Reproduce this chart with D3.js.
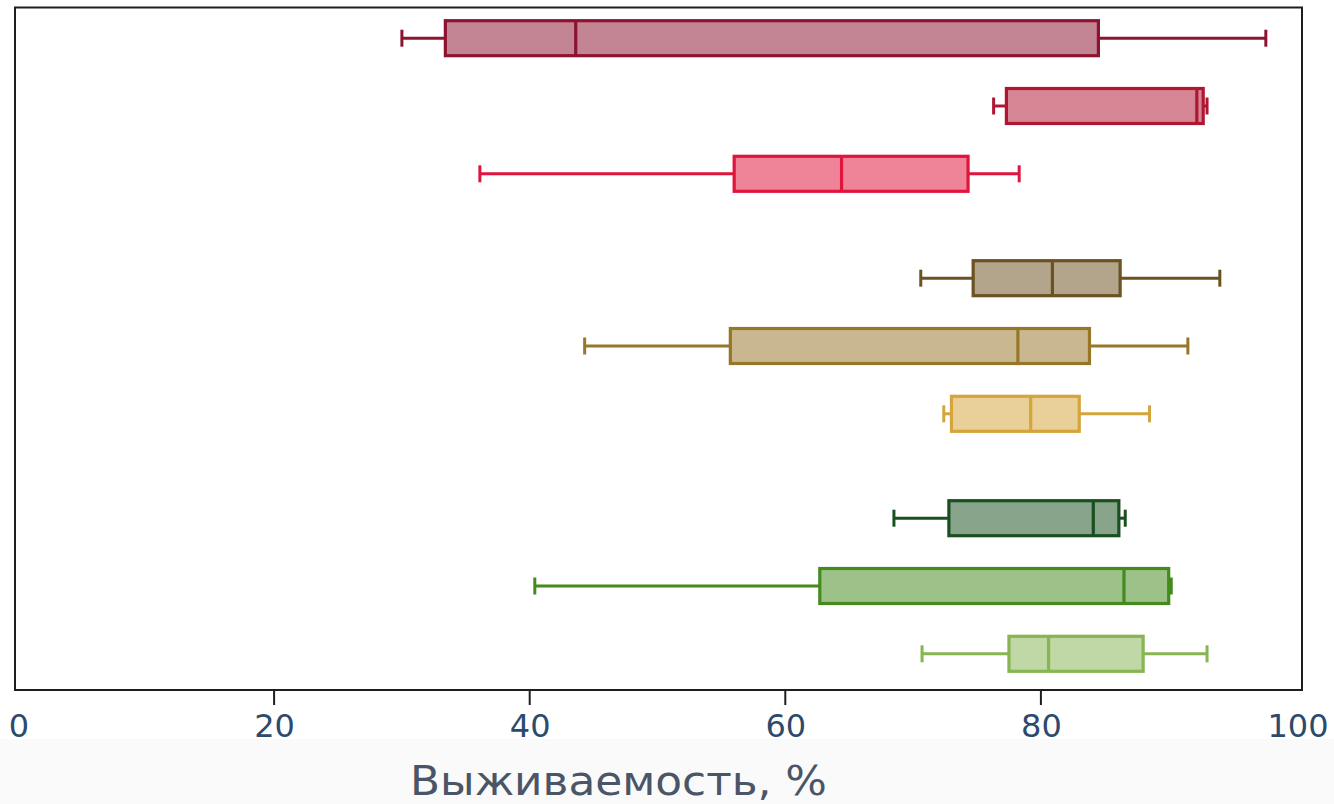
<!DOCTYPE html>
<html>
<head>
<meta charset="utf-8">
<script src="https://cdn.jsdelivr.net/npm/d3@7"></script>
<style>
  html, body { margin: 0; padding: 0; background: #ffffff; }
  svg { display: block; }
</style>
</head>
<body>
<svg id="chart" width="1334" height="804"></svg>
<script>
// Survival (%) box summaries: three groups of three series each
const groups = ["A", "B", "C"];
const series = ["1", "2", "3"];
const mins    = [30.0, 76.3, 36.1,  70.6, 44.3, 72.4,  68.5, 40.4, 70.7];
const q1s     = [33.4, 77.3, 56.0,  74.7, 55.7, 73.0,  72.8, 62.7, 77.5];
const medians = [43.6, 92.2, 64.4,  80.9, 78.2, 79.2,  84.1, 86.5, 80.6];
const q3s     = [84.5, 92.7, 74.3,  86.2, 83.8, 83.0,  86.1, 90.0, 88.0];
const maxs    = [97.6, 93.0, 78.3,  94.0, 91.5, 88.5,  86.6, 90.2, 93.0];
const colors  = ["#8c1430", "#b01631", "#e0143c",
                 "#6b5221", "#977628", "#d4a53a",
                 "#1a5020", "#448a1d", "#86b552"];
const xTicks = [0, 20, 40, 60, 80, 100];
const xTitle = "Выживаемость, %";

const rows = mins.map((m, i) => ({
  group: groups[Math.floor(i / series.length)],
  series: series[i % series.length],
  min: m, q1: q1s[i], med: medians[i], q3: q3s[i], max: maxs[i],
  color: colors[i]
}));

const svg = d3.select("#chart");
const W = 1334, H = 804;
const frame = { left: 15, right: 1302, top: 7.5, bottom: 690 };

// light strip at the bottom of the figure
svg.append("rect").attr("x", 0).attr("y", 739).attr("width", W).attr("height", H - 739)
  .attr("fill", "#fafafa");

const x = d3.scaleLinear().domain([0, 100]).range([18.5, 1296.5]);
const yGroup = d3.scalePoint().domain(groups).range([106, 586]);
const ySeries = d3.scalePoint().domain(series).range([-67.8, 67.8]);
const boxH = 35;
const capH = 17;

const g = svg.append("g");

const box = g.selectAll("g.box").data(rows).join("g").attr("class", "box")
  .attr("transform", d => `translate(0,${yGroup(d.group) + ySeries(d.series)})`);

// whiskers
box.append("line")
  .attr("x1", d => x(d.min)).attr("x2", d => x(d.q1)).attr("y1", 0).attr("y2", 0)
  .attr("stroke", d => d.color).attr("stroke-width", 3);
box.append("line")
  .attr("x1", d => x(d.q3)).attr("x2", d => x(d.max)).attr("y1", 0).attr("y2", 0)
  .attr("stroke", d => d.color).attr("stroke-width", 3);
// caps
box.append("line")
  .attr("x1", d => x(d.min)).attr("x2", d => x(d.min)).attr("y1", -capH / 2).attr("y2", capH / 2)
  .attr("stroke", d => d.color).attr("stroke-width", 3);
box.append("line")
  .attr("x1", d => x(d.max)).attr("x2", d => x(d.max)).attr("y1", -capH / 2).attr("y2", capH / 2)
  .attr("stroke", d => d.color).attr("stroke-width", 3);
// interquartile box
box.append("rect")
  .attr("x", d => x(d.q1)).attr("width", d => x(d.q3) - x(d.q1))
  .attr("y", -boxH / 2).attr("height", boxH)
  .attr("fill", d => d.color).attr("fill-opacity", 0.52)
  .attr("stroke", d => d.color).attr("stroke-width", 3.2);
// median
box.append("line")
  .attr("x1", d => x(d.med)).attr("x2", d => x(d.med)).attr("y1", -boxH / 2).attr("y2", boxH / 2)
  .attr("stroke", d => d.color).attr("stroke-width", 3.2);

// frame
svg.append("rect")
  .attr("x", frame.left).attr("y", frame.top)
  .attr("width", frame.right - frame.left).attr("height", frame.bottom - frame.top)
  .attr("fill", "none").attr("stroke", "#1e1e1e").attr("stroke-width", 2);

// x axis: tick marks on interior ticks only, labels on all
const axis = svg.append("g");
axis.selectAll("line.tick").data(xTicks.filter(t => t > 0 && t < 100)).join("line")
  .attr("class", "tick")
  .attr("x1", d => x(d)).attr("x2", d => x(d))
  .attr("y1", frame.bottom).attr("y2", frame.bottom + 15)
  .attr("stroke", "#1e1e1e").attr("stroke-width", 2);
axis.selectAll("text").data(xTicks).join("text")
  .attr("x", d => x(d) + (d === 100 ? 1.5 : 0.5)).attr("y", 737)
  .attr("text-anchor", "middle")
  .attr("font-family", "DejaVu Sans, sans-serif").attr("font-size", 32)
  .attr("fill", "#2c4a6e")
  .text(d => d3.format("d")(d));

svg.append("text")
  .attr("x", 618.5).attr("y", 795)
  .attr("text-anchor", "middle")
  .attr("font-family", "DejaVu Sans, sans-serif").attr("font-size", 40)
  .attr("textLength", 417).attr("lengthAdjust", "spacingAndGlyphs")
  .attr("fill", "#4a5568")
  .text(xTitle);
</script>
</body>
</html>
